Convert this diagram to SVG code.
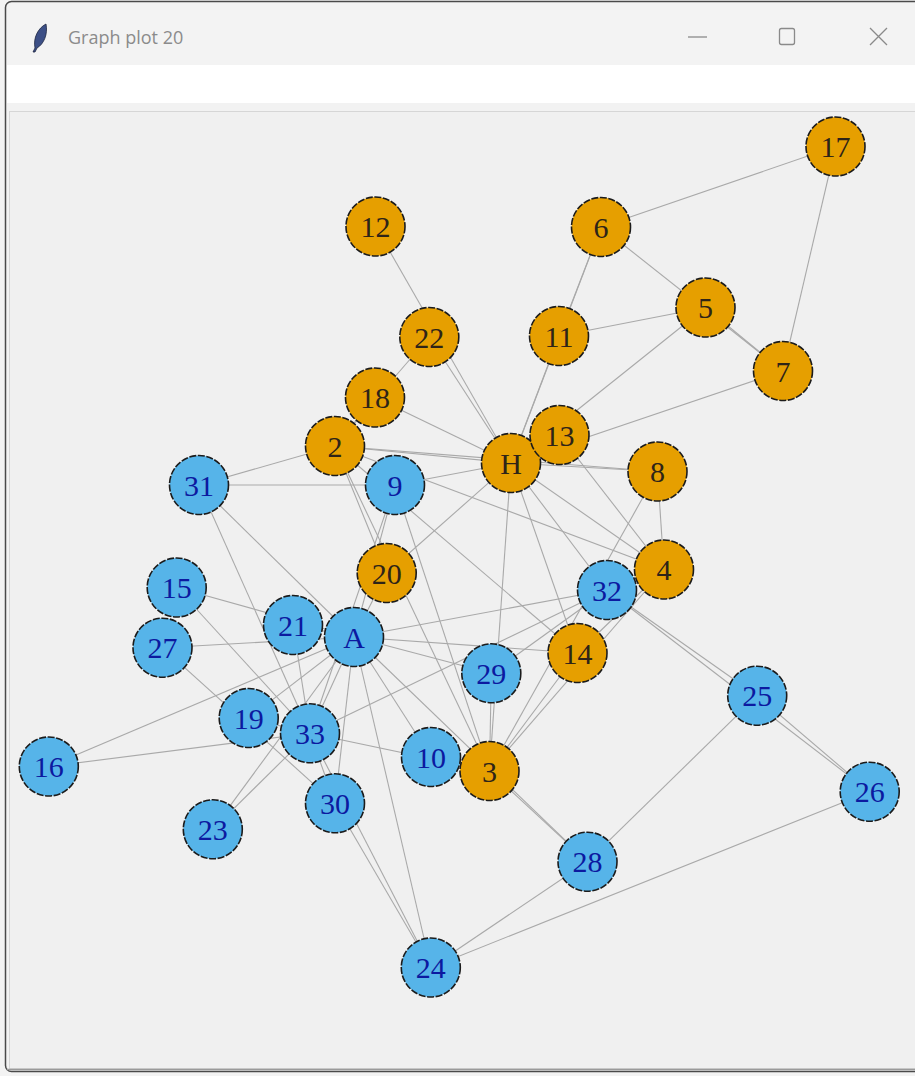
<svg xmlns="http://www.w3.org/2000/svg" width="915" height="1076" viewBox="0 0 915 1076">
<style>
.e{stroke:#a9a9a9;stroke-width:1.1;fill:none}
.nb circle{fill:#56B4E9;stroke:#1b1b1b;stroke-width:1.6;stroke-dasharray:7 1.6}
.no circle{fill:#E69F00;stroke:#1b1b1b;stroke-width:1.6;stroke-dasharray:7 1.6}
.nb text{fill:#0c1aa0}
.no text{fill:#2e2418}
text.l{font-family:"Liberation Serif","Times New Roman",serif;font-size:30px;text-anchor:middle;dominant-baseline:central}
.ctl{stroke:#8a8a8a;stroke-width:1.3;fill:none}
</style>
<!-- window chrome -->
<rect x="0" y="0" width="915" height="1076" fill="#f3f3f3"/>
<rect x="5.5" y="1.5" width="915" height="1070" rx="6" fill="#f3f3f3" stroke="#4a4a4a" stroke-width="1.5"/>
<rect x="7" y="65" width="908" height="38" fill="#ffffff"/>
<rect x="7" y="103" width="908" height="8" fill="#f2f2f2"/>
<rect x="9.5" y="111.5" width="906" height="957" fill="#f0f0f0" stroke="#d6d6d6" stroke-width="1"/>
<line x1="7" y1="1069.5" x2="915" y2="1069.5" stroke="#9a9a9a" stroke-width="1.5"/>
<g id="titlebar">
<path d="M46 24 C38 28 33 38 35 48 L33 52 L35 52 L37 48 C44 44 48 34 46 24 Z" fill="#3c4f86" stroke="#1c2440" stroke-width="0.8"/>
<text x="68" y="44" font-family="'Segoe UI','Open Sans','Noto Sans',sans-serif" font-size="18" fill="#8b8b8b">Graph plot 20</text>
<line class="ctl" x1="688" y1="37" x2="707" y2="37"/>
<rect class="ctl" x="779.5" y="28.5" width="15" height="16" rx="2"/>
<path class="ctl" d="M870 28 L887 45 M887 28 L870 45"/>
</g>
<g id="edges">
<line class="e" x1="511" y1="463" x2="335" y2="446"/>
<line class="e" x1="511" y1="463" x2="489.5" y2="771"/>
<line class="e" x1="511" y1="463" x2="664" y2="569.5"/>
<line class="e" x1="511" y1="463" x2="705.5" y2="307.5"/>
<line class="e" x1="511" y1="463" x2="601" y2="227"/>
<line class="e" x1="511" y1="463" x2="783" y2="371"/>
<line class="e" x1="511" y1="463" x2="657.5" y2="471.5"/>
<line class="e" x1="511" y1="463" x2="395" y2="485"/>
<line class="e" x1="511" y1="463" x2="559" y2="336"/>
<line class="e" x1="511" y1="463" x2="375.5" y2="226.5"/>
<line class="e" x1="511" y1="463" x2="559.5" y2="435"/>
<line class="e" x1="511" y1="463" x2="577.5" y2="653"/>
<line class="e" x1="511" y1="463" x2="375" y2="397.5"/>
<line class="e" x1="511" y1="463" x2="386.7" y2="573"/>
<line class="e" x1="511" y1="463" x2="429.3" y2="337"/>
<line class="e" x1="511" y1="463" x2="607" y2="590"/>
<line class="e" x1="335" y1="446" x2="489.5" y2="771"/>
<line class="e" x1="335" y1="446" x2="664" y2="569.5"/>
<line class="e" x1="335" y1="446" x2="657.5" y2="471.5"/>
<line class="e" x1="335" y1="446" x2="577.5" y2="653"/>
<line class="e" x1="335" y1="446" x2="375" y2="397.5"/>
<line class="e" x1="335" y1="446" x2="386.7" y2="573"/>
<line class="e" x1="335" y1="446" x2="429.3" y2="337"/>
<line class="e" x1="335" y1="446" x2="199" y2="485"/>
<line class="e" x1="489.5" y1="771" x2="664" y2="569.5"/>
<line class="e" x1="489.5" y1="771" x2="657.5" y2="471.5"/>
<line class="e" x1="489.5" y1="771" x2="395" y2="485"/>
<line class="e" x1="489.5" y1="771" x2="431" y2="757"/>
<line class="e" x1="489.5" y1="771" x2="577.5" y2="653"/>
<line class="e" x1="489.5" y1="771" x2="587.5" y2="861.7"/>
<line class="e" x1="489.5" y1="771" x2="491.3" y2="673.3"/>
<line class="e" x1="489.5" y1="771" x2="310" y2="733.3"/>
<line class="e" x1="664" y1="569.5" x2="657.5" y2="471.5"/>
<line class="e" x1="664" y1="569.5" x2="559.5" y2="435"/>
<line class="e" x1="664" y1="569.5" x2="577.5" y2="653"/>
<line class="e" x1="705.5" y1="307.5" x2="783" y2="371"/>
<line class="e" x1="705.5" y1="307.5" x2="559" y2="336"/>
<line class="e" x1="601" y1="227" x2="783" y2="371"/>
<line class="e" x1="601" y1="227" x2="559" y2="336"/>
<line class="e" x1="601" y1="227" x2="835.5" y2="146.5"/>
<line class="e" x1="783" y1="371" x2="835.5" y2="146.5"/>
<line class="e" x1="395" y1="485" x2="199" y2="485"/>
<line class="e" x1="395" y1="485" x2="310" y2="733.3"/>
<line class="e" x1="395" y1="485" x2="354" y2="637"/>
<line class="e" x1="431" y1="757" x2="354" y2="637"/>
<line class="e" x1="577.5" y1="653" x2="354" y2="637"/>
<line class="e" x1="176.7" y1="587.5" x2="310" y2="733.3"/>
<line class="e" x1="176.7" y1="587.5" x2="354" y2="637"/>
<line class="e" x1="48.8" y1="766.5" x2="310" y2="733.3"/>
<line class="e" x1="48.8" y1="766.5" x2="354" y2="637"/>
<line class="e" x1="248.7" y1="718" x2="310" y2="733.3"/>
<line class="e" x1="248.7" y1="718" x2="354" y2="637"/>
<line class="e" x1="386.7" y1="573" x2="354" y2="637"/>
<line class="e" x1="293" y1="625" x2="310" y2="733.3"/>
<line class="e" x1="293" y1="625" x2="354" y2="637"/>
<line class="e" x1="212.8" y1="829.3" x2="310" y2="733.3"/>
<line class="e" x1="212.8" y1="829.3" x2="354" y2="637"/>
<line class="e" x1="430.8" y1="967.5" x2="869.7" y2="791.7"/>
<line class="e" x1="430.8" y1="967.5" x2="587.5" y2="861.7"/>
<line class="e" x1="430.8" y1="967.5" x2="335" y2="803.3"/>
<line class="e" x1="430.8" y1="967.5" x2="310" y2="733.3"/>
<line class="e" x1="430.8" y1="967.5" x2="354" y2="637"/>
<line class="e" x1="757.2" y1="695.7" x2="869.7" y2="791.7"/>
<line class="e" x1="757.2" y1="695.7" x2="587.5" y2="861.7"/>
<line class="e" x1="757.2" y1="695.7" x2="607" y2="590"/>
<line class="e" x1="869.7" y1="791.7" x2="607" y2="590"/>
<line class="e" x1="162.5" y1="647.7" x2="335" y2="803.3"/>
<line class="e" x1="162.5" y1="647.7" x2="354" y2="637"/>
<line class="e" x1="587.5" y1="861.7" x2="354" y2="637"/>
<line class="e" x1="491.3" y1="673.3" x2="607" y2="590"/>
<line class="e" x1="491.3" y1="673.3" x2="354" y2="637"/>
<line class="e" x1="335" y1="803.3" x2="310" y2="733.3"/>
<line class="e" x1="335" y1="803.3" x2="354" y2="637"/>
<line class="e" x1="199" y1="485" x2="310" y2="733.3"/>
<line class="e" x1="199" y1="485" x2="354" y2="637"/>
<line class="e" x1="607" y1="590" x2="310" y2="733.3"/>
<line class="e" x1="607" y1="590" x2="354" y2="637"/>
<line class="e" x1="310" y1="733.3" x2="354" y2="637"/>
</g>
<g id="n-H" class="no"><circle cx="511" cy="463" r="29.5"/><text class="l" x="511" y="463">H</text></g>
<g id="n-2" class="no"><circle cx="335" cy="446" r="29.5"/><text class="l" x="335" y="446">2</text></g>
<g id="n-3" class="no"><circle cx="489.5" cy="771" r="29.5"/><text class="l" x="489.5" y="771">3</text></g>
<g id="n-4" class="no"><circle cx="664" cy="569.5" r="29.5"/><text class="l" x="664" y="569.5">4</text></g>
<g id="n-5" class="no"><circle cx="705.5" cy="307.5" r="29.5"/><text class="l" x="705.5" y="307.5">5</text></g>
<g id="n-6" class="no"><circle cx="601" cy="227" r="29.5"/><text class="l" x="601" y="227">6</text></g>
<g id="n-7" class="no"><circle cx="783" cy="371" r="29.5"/><text class="l" x="783" y="371">7</text></g>
<g id="n-8" class="no"><circle cx="657.5" cy="471.5" r="29.5"/><text class="l" x="657.5" y="471.5">8</text></g>
<g id="n-9" class="nb"><circle cx="395" cy="485" r="29.5"/><text class="l" x="395" y="485">9</text></g>
<g id="n-10" class="nb"><circle cx="431" cy="757" r="29.5"/><text class="l" x="431" y="757">10</text></g>
<g id="n-11" class="no"><circle cx="559" cy="336" r="29.5"/><text class="l" x="559" y="336">11</text></g>
<g id="n-12" class="no"><circle cx="375.5" cy="226.5" r="29.5"/><text class="l" x="375.5" y="226.5">12</text></g>
<g id="n-13" class="no"><circle cx="559.5" cy="435" r="29.5"/><text class="l" x="559.5" y="435">13</text></g>
<g id="n-14" class="no"><circle cx="577.5" cy="653" r="29.5"/><text class="l" x="577.5" y="653">14</text></g>
<g id="n-15" class="nb"><circle cx="176.7" cy="587.5" r="29.5"/><text class="l" x="176.7" y="587.5">15</text></g>
<g id="n-16" class="nb"><circle cx="48.8" cy="766.5" r="29.5"/><text class="l" x="48.8" y="766.5">16</text></g>
<g id="n-17" class="no"><circle cx="835.5" cy="146.5" r="29.5"/><text class="l" x="835.5" y="146.5">17</text></g>
<g id="n-18" class="no"><circle cx="375" cy="397.5" r="29.5"/><text class="l" x="375" y="397.5">18</text></g>
<g id="n-19" class="nb"><circle cx="248.7" cy="718" r="29.5"/><text class="l" x="248.7" y="718">19</text></g>
<g id="n-20" class="no"><circle cx="386.7" cy="573" r="29.5"/><text class="l" x="386.7" y="573">20</text></g>
<g id="n-21" class="nb"><circle cx="293" cy="625" r="29.5"/><text class="l" x="293" y="625">21</text></g>
<g id="n-22" class="no"><circle cx="429.3" cy="337" r="29.5"/><text class="l" x="429.3" y="337">22</text></g>
<g id="n-23" class="nb"><circle cx="212.8" cy="829.3" r="29.5"/><text class="l" x="212.8" y="829.3">23</text></g>
<g id="n-24" class="nb"><circle cx="430.8" cy="967.5" r="29.5"/><text class="l" x="430.8" y="967.5">24</text></g>
<g id="n-25" class="nb"><circle cx="757.2" cy="695.7" r="29.5"/><text class="l" x="757.2" y="695.7">25</text></g>
<g id="n-26" class="nb"><circle cx="869.7" cy="791.7" r="29.5"/><text class="l" x="869.7" y="791.7">26</text></g>
<g id="n-27" class="nb"><circle cx="162.5" cy="647.7" r="29.5"/><text class="l" x="162.5" y="647.7">27</text></g>
<g id="n-28" class="nb"><circle cx="587.5" cy="861.7" r="29.5"/><text class="l" x="587.5" y="861.7">28</text></g>
<g id="n-29" class="nb"><circle cx="491.3" cy="673.3" r="29.5"/><text class="l" x="491.3" y="673.3">29</text></g>
<g id="n-30" class="nb"><circle cx="335" cy="803.3" r="29.5"/><text class="l" x="335" y="803.3">30</text></g>
<g id="n-31" class="nb"><circle cx="199" cy="485" r="29.5"/><text class="l" x="199" y="485">31</text></g>
<g id="n-32" class="nb"><circle cx="607" cy="590" r="29.5"/><text class="l" x="607" y="590">32</text></g>
<g id="n-33" class="nb"><circle cx="310" cy="733.3" r="29.5"/><text class="l" x="310" y="733.3">33</text></g>
<g id="n-A" class="nb"><circle cx="354" cy="637" r="29.5"/><text class="l" x="354" y="637">A</text></g>
</svg>
